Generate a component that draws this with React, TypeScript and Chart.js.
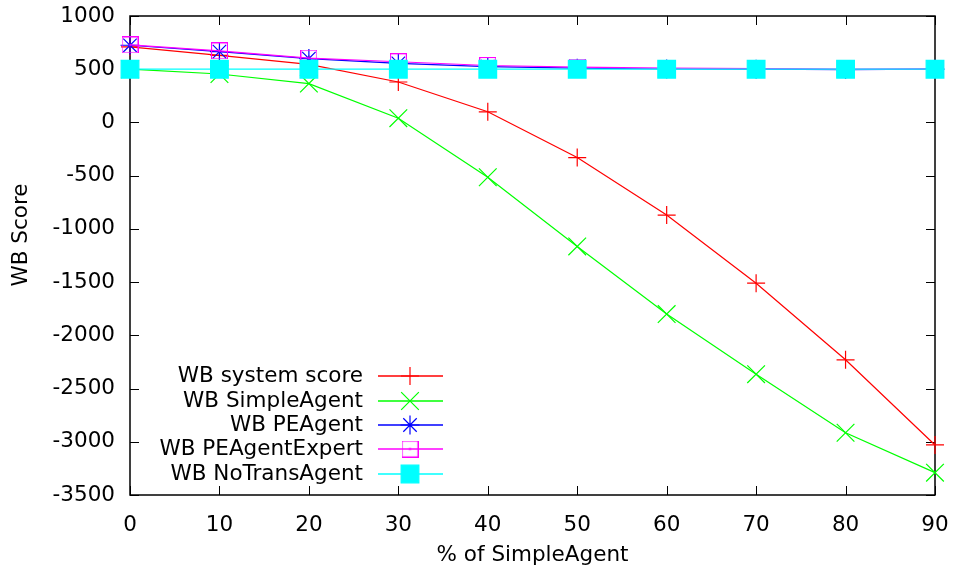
import React, { useEffect, useRef } from "react";
import { Chart, registerables } from "chart.js";
import { drawPoint } from "chart.js/helpers";

Chart.register(...registerables);

const xValues = [0, 10, 20, 30, 40, 50, 60, 70, 80, 90];
const systemScore = [710, 630, 545, 380, 100, -330, -870, -1510, -2230, -3030];
const simpleAgent = [500, 455, 365, 40, -515, -1165, -1800, -2365, -2915, -3290];
const peAgent = [725, 665, 600, 555, 525, 510, 502, 500, 497, 500];
const peAgentExpert = [728, 672, 605, 570, 535, 520, 510, 505, 500, 500];
const noTransAgent = [500, 500, 500, 500, 500, 500, 500, 500, 500, 500];

const seriesLabels = [
  "WB system score",
  "WB SimpleAgent",
  "WB PEAgent",
  "WB PEAgentExpert",
  "WB NoTransAgent",
];
const xTitle = "% of SimpleAgent";
const yTitle = "WB Score";
const xMin = 0, xMax = 90, xStep = 10;
const yMin = -3500, yMax = 1000, yStep = 500;

const FONT = "'DejaVu Sans', sans-serif";
const FS = 21.5;

function makeHollowSquare(color: string) {
  const c = document.createElement("canvas");
  c.width = 17;
  c.height = 17;
  const g = c.getContext("2d")!;
  g.strokeStyle = color;
  g.lineWidth = 1.2;
  g.strokeRect(0.5, 0.5, 16, 16);
  g.fillStyle = color;
  g.fillRect(7.5, 7.5, 2, 2);
  return c;
}

export default function App() {
  const ref = useRef<HTMLCanvasElement>(null);
  useEffect(() => {
    document.body.style.margin = "0";
    const magentaMarker = makeHollowSquare("#ff00ff");
    const styles = [
      { color: "#ff0000", pointStyle: "cross", radius: 9 },
      { color: "#00ff00", pointStyle: "crossRot", radius: 12.5 },
      { color: "#0000ff", pointStyle: "star", radius: 9.5 },
      { color: "#ff00ff", pointStyle: magentaMarker as any, radius: 9 },
      { color: "#00ffff", pointStyle: "rect", radius: 12.5 },
    ];
    const series = [systemScore, simpleAgent, peAgent, peAgentExpert, noTransAgent];

    const datasets = series.map((vals, i) => ({
      label: seriesLabels[i],
      data: vals.map((v, j) => ({ x: xValues[j], y: v })),
      borderColor: styles[i].color,
      backgroundColor: i === 4 ? styles[i].color : "transparent",
      pointBorderColor: styles[i].color,
      pointBackgroundColor: i === 4 ? styles[i].color : "transparent",
      pointStyle: styles[i].pointStyle,
      pointRadius: styles[i].radius,
      pointBorderWidth: 1.2,
      borderWidth: 1.2,
      tension: 0,
      clip: false as any,
      order: 4 - i,
    }));

    const framePlugin = {
      id: "frame",
      beforeDatasetsDraw(chart: any) {
        const { ctx, chartArea: a, scales } = chart;
        ctx.save();
        ctx.strokeStyle = "#000";
        ctx.lineWidth = 1;
        const tl = 9;
        ctx.beginPath();
        for (let v = xMin; v <= xMax; v += xStep) {
          const px = Math.round(scales.x.getPixelForValue(v)) + 0.5;
          ctx.moveTo(px, a.bottom);
          ctx.lineTo(px, a.bottom - tl);
          ctx.moveTo(px, a.top);
          ctx.lineTo(px, a.top + tl);
        }
        for (let v = yMin; v <= yMax; v += yStep) {
          const py = Math.round(scales.y.getPixelForValue(v)) + 0.5;
          ctx.moveTo(a.left, py);
          ctx.lineTo(a.left + tl, py);
          ctx.moveTo(a.right, py);
          ctx.lineTo(a.right - tl, py);
        }
        ctx.stroke();
        ctx.lineWidth = 1.5;
        ctx.strokeRect(a.left, a.top, a.right - a.left, a.bottom - a.top);
        // y title
        ctx.fillStyle = "#000";
        ctx.font = `${FS}px ${FONT}`;
        ctx.translate(21, 235);
        ctx.rotate(-Math.PI / 2);
        ctx.textAlign = "center";
        ctx.textBaseline = "middle";
        ctx.fillText(yTitle, 0, 0);
        ctx.restore();
      },
      afterDatasetsDraw(chart: any) {
        const { ctx } = chart;
        const rows = [376, 401, 425, 449, 474];
        const textRight = 363, lineL = 378, lineR = 443, mx = 410;
        for (let i = 0; i < 5; i++) {
          const y = rows[i];
          ctx.save();
          ctx.font = `${FS}px ${FONT}`;
          ctx.textAlign = "right";
          ctx.textBaseline = "middle";
          ctx.fillStyle = "#000";
          ctx.fillText(seriesLabels[i], textRight, y);
          ctx.restore();
          ctx.save();
          ctx.strokeStyle = styles[i].color;
          ctx.lineWidth = 1.3;
          ctx.beginPath();
          ctx.moveTo(lineL, y);
          ctx.lineTo(lineR, y);
          ctx.stroke();
          ctx.restore();
          ctx.save();
          ctx.strokeStyle = styles[i].color;
          ctx.fillStyle = i === 4 ? styles[i].color : "rgba(0,0,0,0)";
          ctx.lineWidth = 1.2;
          drawPoint(ctx, { pointStyle: styles[i].pointStyle, radius: styles[i].radius, rotation: 0, borderWidth: 1.2 } as any, mx, y);
          ctx.restore();
        }
      },
    };

    const chart = new Chart(ref.current!, {
      type: "line",
      data: { datasets: datasets as any },
      plugins: [framePlugin],
      options: {
        animation: false,
        responsive: false,
        maintainAspectRatio: false,
        layout: { padding: { top: 16, right: 19, left: 0, bottom: 0 } },
        plugins: { legend: { display: false }, tooltip: { enabled: false } },
        scales: {
          x: {
            type: "linear",
            min: xMin,
            max: xMax,
            grid: { display: false, drawTicks: false },
            border: { display: false },
            ticks: { stepSize: xStep, color: "#000", font: { family: FONT, size: FS }, padding: 18, maxRotation: 0, callback: (v: any) => String(v) },
            title: { display: true, text: xTitle, color: "#000", font: { family: FONT, size: FS }, padding: { top: 0, bottom: 1 } },
            afterFit(s: any) { s.height = 74; s.paddingLeft = 0; s.paddingRight = 0; },
          },
          y: {
            type: "linear",
            min: yMin,
            max: yMax,
            grid: { display: false, drawTicks: false },
            border: { display: false },
            ticks: { stepSize: yStep, color: "#000", font: { family: FONT, size: FS }, padding: 15, callback: (v: any) => String(v) },
            afterFit(s: any) { s.width = 130; s.paddingTop = 0; s.paddingBottom = 0; },
          },
        },
      } as any,
    });
    return () => chart.destroy();
  }, []);
  return <canvas ref={ref} width={954} height={569} style={{ display: "block" }} />;
}
